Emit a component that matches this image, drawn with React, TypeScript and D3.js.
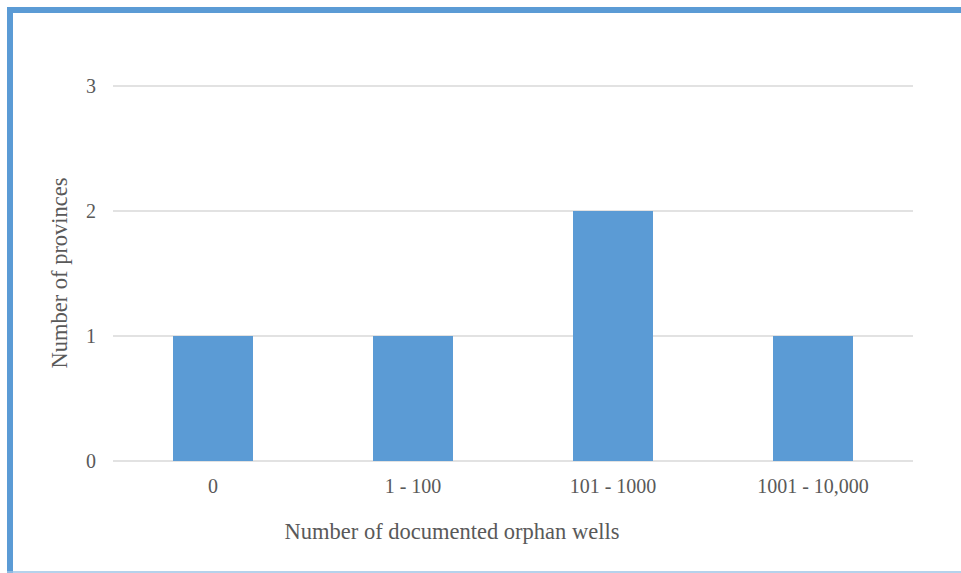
import React from 'react';
import * as d3 from 'd3';

const categories = ['0', '1 - 100', '101 - 1000', '1001 - 10,000'];
const provinces = [1, 1, 2, 1];
const yTicks = [0, 1, 2, 3];

const W = 961;
const H = 573;
const margin = { left: 113, right: 48, top: 86, bottom: 112 };
const font = '"Liberation Serif", "Times New Roman", serif';
const textColor = '#595959';

const App: React.FC = () => {
  const x = d3.scaleBand<string>()
    .domain(categories)
    .range([margin.left, W - margin.right])
    .paddingInner(0.6)
    .paddingOuter(0.3);
  const y = d3.scaleLinear().domain([0, 3]).range([H - margin.bottom, margin.top]);

  return (
    <svg width={W} height={H} style={{ position: 'absolute', left: 0, top: 0 }}>
      <rect x={0} y={0} width={W} height={H} fill="#fff" />
      {/* frame */}
      <rect x={7} y={7} width={W} height={6} fill="#5b9bd5" />
      <rect x={7} y={7} width={6} height={H} fill="#5b9bd5" />
      <line x1={7} x2={W} y1={572} y2={572} stroke="#9dc3e6" strokeWidth={1.5} />

      {yTicks.map(t => (
        <g key={t}>
          <line x1={margin.left} x2={W - margin.right} y1={y(t)} y2={y(t)} stroke="#d9d9d9" strokeWidth={1.3} />
          <text x={96} y={y(t)} dy="0.33em" textAnchor="end" fontFamily={font} fontSize={20} fill={textColor}>{t}</text>
        </g>
      ))}

      {categories.map((c, i) => (
        <rect key={c} x={x(c)} y={y(provinces[i])} width={x.bandwidth()} height={y(0) - y(provinces[i])} fill="#5b9bd5" />
      ))}

      {categories.map(c => (
        <text key={c} x={(x(c) ?? 0) + x.bandwidth() / 2} y={493} textAnchor="middle" fontFamily={font} fontSize={20} fill={textColor}>{c}</text>
      ))}

      <text x={452} y={539} textAnchor="middle" fontFamily={font} fontSize={22.5} fill={textColor}>Number of documented orphan wells</text>
      <text transform={`translate(67, 273) rotate(-90)`} textAnchor="middle" fontFamily={font} fontSize={22.5} fill={textColor}>Number of provinces</text>
    </svg>
  );
};

export default App;
